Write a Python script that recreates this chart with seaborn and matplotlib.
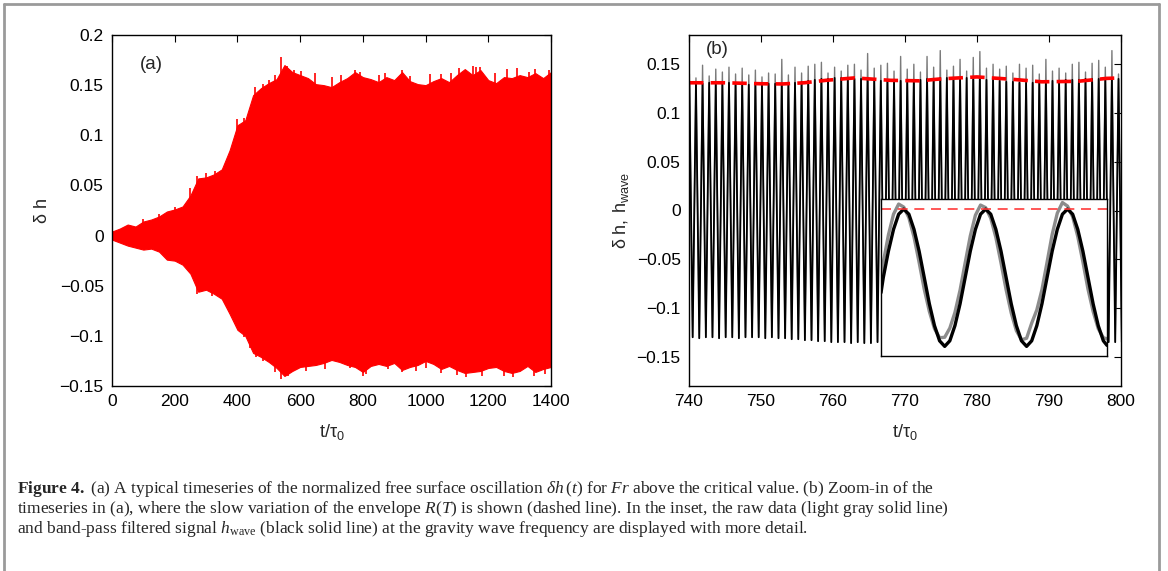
import numpy as np
import matplotlib
matplotlib.use("Agg")
import matplotlib.pyplot as plt
from matplotlib.lines import Line2D
import seaborn as sns

# ---- panel (a): envelope of the red timeseries, read every 25 tau0 ----
t_a = np.arange(0, 1401, 25)
upper_a = [0.004, 0.007, 0.011, 0.009, 0.014, 0.016, 0.019, 0.024, 0.026, 0.029,
           0.040, 0.057, 0.058, 0.061, 0.066, 0.085, 0.110, 0.115, 0.140, 0.147,
           0.152, 0.156, 0.170, 0.163, 0.160, 0.157, 0.151, 0.150, 0.148, 0.153,
           0.157, 0.163, 0.158, 0.156, 0.153, 0.158, 0.155, 0.163, 0.154, 0.151,
           0.150, 0.154, 0.157, 0.153, 0.160, 0.166, 0.160, 0.165, 0.155, 0.152,
           0.158, 0.157, 0.160, 0.158, 0.162, 0.157, 0.163]
lower_a = [-0.004, -0.007, -0.010, -0.012, -0.014, -0.013, -0.016, -0.024, -0.025, -0.029,
           -0.038, -0.056, -0.054, -0.058, -0.063, -0.078, -0.094, -0.100, -0.117, -0.121,
           -0.126, -0.132, -0.140, -0.135, -0.131, -0.130, -0.129, -0.127, -0.124, -0.126,
           -0.129, -0.131, -0.136, -0.130, -0.128, -0.130, -0.127, -0.134, -0.131, -0.129,
           -0.125, -0.128, -0.133, -0.130, -0.134, -0.137, -0.136, -0.135, -0.132, -0.131,
           -0.135, -0.137, -0.135, -0.130, -0.136, -0.133, -0.131]

# isolated spikes sticking out of the envelope in (a)
spike_up_t = [100, 150, 200, 250, 270, 300, 330, 400, 420, 440, 455, 480, 500, 520,
              538, 557, 580, 604, 646, 700, 730, 775, 790, 850, 870, 925, 950, 1013,
              1050, 1080, 1106, 1150, 1160, 1175, 1220, 1260, 1290, 1330, 1350, 1395]
spike_up_v = [0.017, 0.022, 0.028, 0.047, 0.059, 0.062, 0.064, 0.116, 0.117, 0.121,
              0.148, 0.151, 0.155, 0.160, 0.178, 0.169, 0.165, 0.164, 0.162, 0.158,
              0.160, 0.165, 0.163, 0.160, 0.162, 0.165, 0.159, 0.161, 0.161, 0.162,
              0.167, 0.169, 0.168, 0.168, 0.162, 0.166, 0.167, 0.163, 0.166, 0.165]
spike_dn_t = [270, 320, 420, 440, 460, 480, 520, 540, 560, 620, 680, 760, 800, 810,
              880, 925, 970, 1000, 1050, 1100, 1130, 1180, 1250, 1280, 1345, 1380]
spike_dn_v = [-0.058, -0.060, -0.101, -0.112, -0.121, -0.125, -0.136, -0.143, -0.140,
              -0.135, -0.133, -0.132, -0.140, -0.138, -0.133, -0.136, -0.135, -0.132,
              -0.137, -0.139, -0.141, -0.140, -0.140, -0.141, -0.140, -0.138]

# ---- panel (b): one value per wave cycle ----
period_b = 0.917
first_peak_b = 740.05
raw_peaks_b = [0.140, 0.136, 0.149, 0.138, 0.145, 0.142, 0.147, 0.140, 0.146, 0.139,
               0.144, 0.137, 0.141, 0.140, 0.155, 0.139, 0.147, 0.141, 0.148, 0.150,
               0.152, 0.141, 0.147, 0.143, 0.149, 0.150, 0.144, 0.161, 0.146, 0.149,
               0.151, 0.143, 0.158, 0.145, 0.150, 0.142, 0.158, 0.147, 0.164, 0.144,
               0.148, 0.155, 0.143, 0.157, 0.163, 0.146, 0.150, 0.145, 0.148, 0.141,
               0.150, 0.146, 0.149, 0.140, 0.155, 0.143, 0.146, 0.141, 0.150, 0.152,
               0.142, 0.151, 0.154, 0.147, 0.164, 0.140]
wave_peaks_b = [0.131, 0.131, 0.130, 0.131, 0.130, 0.130, 0.131, 0.130, 0.130, 0.129,
                0.130, 0.129, 0.130, 0.130, 0.129, 0.130, 0.131, 0.132, 0.133, 0.134,
                0.135, 0.135, 0.136, 0.136, 0.136, 0.135, 0.135, 0.134, 0.134, 0.133,
                0.133, 0.133, 0.133, 0.133, 0.134, 0.134, 0.135, 0.135, 0.136, 0.136,
                0.136, 0.136, 0.136, 0.135, 0.135, 0.134, 0.134, 0.133, 0.132, 0.132,
                0.131, 0.131, 0.131, 0.132, 0.132, 0.133, 0.133, 0.134, 0.134, 0.134,
                0.135, 0.135, 0.135, 0.135, 0.135, 0.135]
wave_troughs_b = [-0.130, -0.131, -0.130, -0.130, -0.131, -0.130, -0.130, -0.131, -0.130, -0.130,
                  -0.130, -0.131, -0.130, -0.131, -0.131, -0.132, -0.132, -0.133, -0.133, -0.134,
                  -0.134, -0.135, -0.135, -0.135, -0.136, -0.135, -0.136, -0.136, -0.135, -0.136,
                  -0.135, -0.135, -0.136, -0.135, -0.135, -0.136, -0.135, -0.135, -0.136, -0.135,
                  -0.135, -0.136, -0.135, -0.135, -0.136, -0.135, -0.135, -0.135, -0.134, -0.134,
                  -0.134, -0.133, -0.133, -0.134, -0.134, -0.135, -0.135, -0.135, -0.135, -0.135,
                  -0.135, -0.135, -0.136, -0.135, -0.135, -0.135]
env_t_b = [740, 745, 750, 753, 756, 759, 763, 768, 772, 775, 780, 785, 789, 794, 798, 800]
env_b = [0.131, 0.131, 0.130, 0.1298, 0.131, 0.1335, 0.136, 0.1335, 0.133, 0.135,
         0.137, 0.1345, 0.132, 0.1325, 0.1355, 0.136]

# ---- inset: samples every 1/16 wave period (x in periods) ----
inset_x = [0.0] + [0.028 + j / 16 for j in range(44)] + [2.76]
inset_wave = [-0.030,
              0.000, 0.052, 0.095, 0.125, 0.135, 0.125, 0.095, 0.052,
              0.000, -0.052, -0.095, -0.125, -0.136, -0.125, -0.095, -0.052,
              0.000, 0.052, 0.095, 0.125, 0.135, 0.125, 0.095, 0.052,
              0.000, -0.052, -0.095, -0.125, -0.136, -0.125, -0.095, -0.052,
              0.000, 0.052, 0.095, 0.125, 0.135, 0.125, 0.095, 0.052,
              0.000, -0.052, -0.095, -0.125,
              -0.134]
inset_raw = [-0.012,
             0.030, 0.084, 0.125, 0.145, 0.139, 0.118, 0.080, 0.030,
             -0.023, -0.067, -0.101, -0.119, -0.118, -0.100, -0.069, -0.025,
             0.029, 0.082, 0.123, 0.143, 0.138, 0.117, 0.079, 0.029,
             -0.024, -0.070, -0.105, -0.123, -0.120, -0.090, -0.064, -0.024,
             0.030, 0.085, 0.127, 0.148, 0.141, 0.120, 0.081, 0.031,
             -0.023, -0.067, -0.101, -0.119,
             -0.121]
inset_env = 0.135

# ---- styling ----
sns.set_style("white")
plt.rcParams["font.family"] = ["Liberation Sans", "DejaVu Sans"]
plt.rcParams["mathtext.fontset"] = "custom"
plt.rcParams["mathtext.rm"] = "Liberation Serif"
plt.rcParams["mathtext.it"] = "Liberation Serif:italic"
plt.rcParams["mathtext.bf"] = "Liberation Serif:bold"
plt.rcParams["mathtext.sf"] = "Liberation Sans"

fig = plt.figure(figsize=(11.68, 5.71), dpi=100)
W, H = 1168, 571


def px_axes(x0, y0, x1, y1):
    return fig.add_axes([x0 / W, 1 - y1 / H, (x1 - x0) / W, (y1 - y0) / H])


def style_box(ax):
    for s in ax.spines.values():
        s.set_color("black")
        s.set_linewidth(1.0)
    ax.tick_params(direction="in", top=True, right=True, length=5, width=0.8,
                   labelsize=12.5, colors="black", pad=6)


# panel (a)
ax1 = px_axes(112, 35, 551, 386)
ax1.fill_between(t_a, lower_a, upper_a, color="#ff0000", linewidth=0.8,
                 edgecolor="#ff0000")
ax1.vlines(spike_up_t, 0, spike_up_v, color="#ff0000", linewidth=1.2)
ax1.vlines(spike_dn_t, spike_dn_v, 0, color="#ff0000", linewidth=1.2)
ax1.set_xlim(0, 1400)
ax1.set_ylim(-0.15, 0.2)
ax1.set_xticks(range(0, 1401, 200))
ax1.set_yticks([-0.15, -0.1, -0.05, 0, 0.05, 0.1, 0.15, 0.2])
ax1.set_yticklabels(["\u22120.15", "\u22120.1", "\u22120.05", "0", "0.05", "0.1", "0.15", "0.2"])
style_box(ax1)
ax1.set_xlabel(r"t/$\mathsf{\tau_0}$", fontsize=13, labelpad=9)
ax1.set_ylabel("\u03b4 h", fontsize=13, labelpad=6)
ax1.text(124, 0.171, "(a)", fontsize=13.5, ha="center", va="center")

# panel (b)
n = len(raw_peaks_b)
t_peak = first_peak_b + period_b * np.arange(n)
t_trough = t_peak + period_b / 2
x_zig = np.concatenate([[t_peak[0] - period_b / 2],
                        np.column_stack([t_peak, t_trough]).ravel()])
y_raw = np.concatenate([[wave_troughs_b[0]],
                        np.column_stack([raw_peaks_b, wave_troughs_b]).ravel()])
y_wave = np.concatenate([[wave_troughs_b[0]],
                         np.column_stack([wave_peaks_b, wave_troughs_b]).ravel()])

ax2 = px_axes(689, 35, 1121, 386)
sns.lineplot(x=x_zig, y=y_raw, ax=ax2, color="#7a7a7a", linewidth=1.0,
             sort=False, estimator=None)
sns.lineplot(x=x_zig, y=y_wave, ax=ax2, color="black", linewidth=1.3,
             sort=False, estimator=None)
sns.lineplot(x=env_t_b, y=env_b, ax=ax2, color="#ff0000", linewidth=2.6,
             sort=False, estimator=None)
ax2.lines[-1].set_dashes([4, 2])
ax2.set_xlim(740, 800)
ax2.set_ylim(-0.18, 0.18)
ax2.set_xticks(range(740, 801, 10))
ax2.set_yticks([-0.15, -0.1, -0.05, 0, 0.05, 0.1, 0.15])
ax2.set_yticklabels(["\u22120.15", "\u22120.1", "\u22120.05", "0", "0.05", "0.1", "0.15"])
style_box(ax2)
ax2.set_xlabel(r"t/$\mathsf{\tau_0}$", fontsize=13, labelpad=9)
ax2.set_ylabel(r"$\mathsf{\delta\ h,\ h_{wave}}$", fontsize=13, labelpad=4)
ax2.text(743.9, 0.165, "(b)", fontsize=13.5, ha="center", va="center")

# inset
ax3 = px_axes(881, 199, 1107, 356)
ax3.set_facecolor("white")
sns.lineplot(x=inset_x, y=inset_raw, ax=ax3, color="#8c8c8c", linewidth=2.4,
             sort=False, estimator=None)
sns.lineplot(x=inset_x, y=inset_wave, ax=ax3, color="black", linewidth=2.4,
             sort=False, estimator=None)
ax3.axhline(inset_env, color="#ff3b3b", linewidth=1.2, dashes=(6, 4))
ax3.set_xlim(0, 2.76)
ax3.set_ylim(-0.155, 0.155)
ax3.set_xticks([])
ax3.set_yticks([])
ax3.set_xlabel("")
ax3.set_ylabel("")
for s in ax3.spines.values():
    s.set_color("black")
    s.set_linewidth(1.0)

# caption
cap_kw = dict(fontsize=12.5, family="Liberation Serif", ha="left", va="center")
fig.text(17 / W, 1 - 489 / H,
         r"$\mathbf{Figure\ 4.}$ (a) A typical timeseries of the normalized free surface "
         r"oscillation $\delta h\,(t)$ for $Fr$ above the critical value. (b) Zoom-in of the",
         **cap_kw)
fig.text(17 / W, 1 - 509 / H,
         r"timeseries in (a), where the slow variation of the envelope $R(T)$ is shown "
         r"(dashed line). In the inset, the raw data (light gray solid line)",
         **cap_kw)
fig.text(17 / W, 1 - 529 / H,
         r"and band-pass filtered signal $h_{\mathrm{wave}}$ (black solid line) at the "
         r"gravity wave frequency are displayed with more detail.",
         **cap_kw)

# thin grey frame round the figure (open at the bottom)
frame_kw = dict(color="#9a9a9a", linewidth=2, transform=fig.transFigure)
fig.add_artist(Line2D([4 / W, 4 / W], [0, 1 - 4 / H], **frame_kw))
fig.add_artist(Line2D([4 / W, 1159 / W], [1 - 4 / H, 1 - 4 / H], **frame_kw))
fig.add_artist(Line2D([1159 / W, 1159 / W], [0, 1 - 4 / H], **frame_kw))

fig.savefig("out.png", dpi=100)
